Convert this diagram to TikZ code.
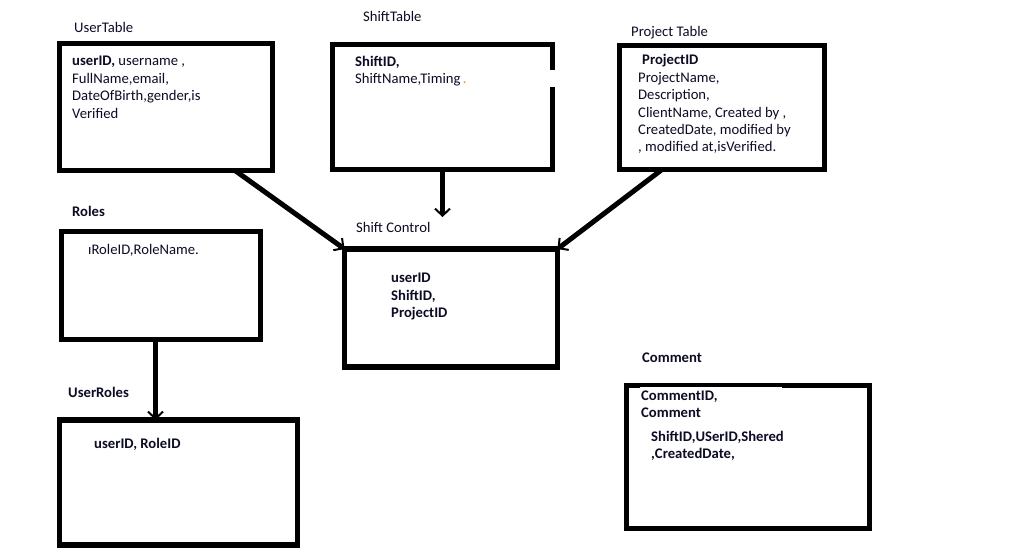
\documentclass[tikz,border=0pt]{standalone}
\usepackage{fontspec}
\setmainfont{Carlito}
\usetikzlibrary{arrows.meta}
\definecolor{ink}{RGB}{12,12,36}
\definecolor{dotorange}{RGB}{230,140,40}
\tikzset{
  tbl/.style={draw=black, line width=5.5pt, rectangle, inner sep=0pt, outer sep=0pt, anchor=north west},
  fld/.style={anchor=base west, inner sep=0pt, text=ink, font=\fontsize{14.67}{17.6}\selectfont},
  fldb/.style={fld, font=\fontsize{14.67}{17.6}\selectfont\bfseries},
  conn/.style={draw=black, line width=5pt, -{Straight Barb[length=7pt,width=15pt,line width=2pt]}}
}
\begin{document}
\begin{tikzpicture}[x=1pt,y=-1pt]
\useasboundingbox[fill=white] (0,0) rectangle (1010,556);

% table boxes
\node[tbl, minimum width=213pt, minimum height=127pt] (user) at (59.5,43.5) {};
\node[tbl, minimum width=220pt, minimum height=125pt] (shift) at (332.5,44.5) {};
\node[tbl, minimum width=205pt, minimum height=124pt] (project) at (619.5,45.5) {};
\node[tbl, minimum width=199pt, minimum height=108pt] (roles) at (61.5,231.5) {};
\node[tbl, minimum width=213pt, minimum height=118pt] (ctrl) at (344.5,249) {};
\node[tbl, minimum width=238pt, minimum height=125pt] (uroles) at (59.5,420) {};
\node[tbl, minimum width=243pt, minimum height=143pt] (comment) at (626.5,385.5) {};

% breaks in the outlines
\fill[white] (548,70) rectangle (557,87);
\fill[white] (640,386.6) rectangle (782,389);

% table titles
\node[fld] (userT) at (74,33) {UserTable};
\node[fld] (shiftT) at (363,22) {ShiftTable};
\node[fld] (projectT) at (631,37) {Project Table};
\node[fldb] (rolesT) at (72,217) {Roles};
\node[fld] (ctrlT) at (356,233) {Shift Control};
\node[fldb] (urolesT) at (68,397) {UserRoles};
\node[fldb] (commentT) at (642,362) {Comment};

% UserTable fields
\node[fld] (u1) at (72,66) {\textbf{userID,} username ,};
\node[fld] (u2) at (72,83.5) {FullName,email,};
\node[fld] (u3) at (72,101) {DateOfBirth,gender,is};
\node[fld] (u4) at (72,118.5) {Verified};

% ShiftTable fields
\node[fldb] (s1) at (355,67) {ShiftID,};
\node[fld] (s2) at (355,83.5) {ShiftName,Timing\,{\color{dotorange}.}};

% Project Table fields
\node[fldb] (p1) at (642,65) {ProjectID};
\node[fld] (p2) at (638,82.4) {ProjectName,};
\node[fld] (p3) at (638,99.8) {Description,};
\node[fld] (p4) at (638,117.2) {ClientName, Created by ,};
\node[fld] (p5) at (638,134.6) {CreatedDate, modified by};
\node[fld] (p6) at (638,152) {, modified at,isVerified.};

% Roles fields
\node[fld] (r1) at (88,255) {ıRoleID,RoleName.};

% Shift Control fields
\node[fldb] (c1) at (391,283) {userID};
\node[fldb] (c2) at (391,300.5) {ShiftID,};
\node[fldb] (c3) at (391,318) {ProjectID};

% UserRoles fields
\node[fldb] (ur1) at (94,448) {userID, RoleID};

% Comment fields
\node[fldb] (m1) at (641,400) {CommentID,};
\node[fldb] (m2) at (641,417.5) {Comment};
\node[fldb] (m3) at (651,441) {ShiftID,USerID,Shered};
\node[fldb] (m4) at (651,458.5) {,CreatedDate,};

% relations
\coordinate (shiftEnd) at (442.5,217);
\draw[conn] ([xshift=-37.5pt]user.south east) -- (ctrl.north west);
\draw[conn] (shift.south) -- (shiftEnd);
\draw[conn] ([xshift=42.5pt]project.south west) -- (ctrl.north east);
\draw[conn] ([xshift=-5.5pt]roles.south) -- ([xshift=-23pt]uroles.north);
\end{tikzpicture}
\end{document}
